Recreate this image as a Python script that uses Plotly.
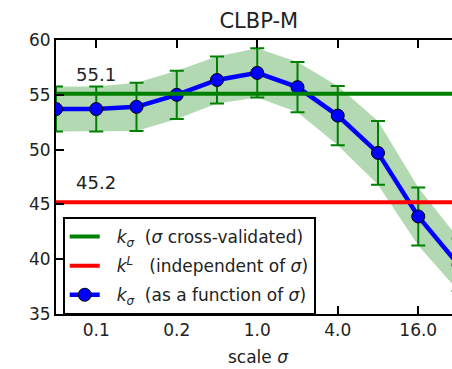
import plotly.graph_objects as go

# Scale values (plotted at evenly spaced positions, labelled every other one)
scale_pos = list(range(11))
tick_pos = [1, 3, 5, 7, 9]
tick_labels = ["0.1", "0.2", "1.0", "4.0", "16.0"]

# Accuracy of k_sigma as a function of sigma (mean and std)
k_sigma_mean = [53.7, 53.7, 53.9, 55.0, 56.35, 57.0, 55.7, 53.1, 49.7, 43.9, 39.5]
k_sigma_std = [2.05, 2.05, 2.2, 2.2, 2.15, 2.25, 2.3, 2.7, 2.9, 2.65, 2.4]

# Reference accuracies
k_sigma_cv = 55.1
k_L = 45.2

FONT = "DejaVu Sans"
PAD = "\u2002\u2009"
upper = [m + s for m, s in zip(k_sigma_mean, k_sigma_std)]
lower = [m - s for m, s in zip(k_sigma_mean, k_sigma_std)]

fig = go.Figure()

# shaded +/- std band
fig.add_trace(go.Scatter(x=scale_pos, y=upper, mode="lines",
                         line=dict(width=0, color="rgba(0,128,0,0)"),
                         showlegend=False, hoverinfo="skip"))
fig.add_trace(go.Scatter(x=scale_pos, y=lower, mode="lines",
                         line=dict(width=0, color="rgba(0,128,0,0)"),
                         fill="tonexty", fillcolor="rgba(0,128,0,0.3)",
                         showlegend=False, hoverinfo="skip"))

# k_sigma curve with error bars
fig.add_trace(go.Scatter(
    x=scale_pos, y=k_sigma_mean, mode="lines+markers",
    line=dict(color="#0000ff", width=4.5),
    marker=dict(size=13, color="#0000ff", line=dict(color="black", width=1)),
    error_y=dict(type="data", array=k_sigma_std, visible=True,
                 color="#008000", thickness=2, width=7),
    name=PAD + "<i>k</i><sub><i>σ</i></sub>  (as a function of <i>σ</i>)",
    legendrank=3, legendgroup="c",
))

# horizontal reference lines
x_span = [scale_pos[0] - 1, scale_pos[-1] + 1]
fig.add_trace(go.Scatter(
    x=x_span, y=[k_sigma_cv] * 2, mode="lines",
    line=dict(color="#008000", width=4),
    name=PAD + "<i>k</i><sub><i>σ</i></sub>  (<i>σ</i> cross-validated)",
    legendrank=1, legendgroup="a",
))
fig.add_trace(go.Scatter(
    x=x_span, y=[k_L] * 2, mode="lines",
    line=dict(color="#ff0000", width=4),
    name=PAD + "<i>k</i><sup><i>L</i></sup>   (independent of <i>σ</i>)",
    legendrank=2, legendgroup="b",
))

for v in (k_sigma_cv, k_L):
    fig.add_annotation(x=1, y=v, text=f"{v:.1f}", showarrow=False,
                       xanchor="center", yanchor="bottom", yshift=7,
                       font=dict(family=FONT, size=18, color="#222"))

fig.add_annotation(x=(258.5 - 56) / 396, y=-(357 - 314) / 274,
                   xref="paper", yref="paper",
                   text="scale <i>σ</i>", showarrow=False,
                   xanchor="center", yanchor="middle",
                   font=dict(family=FONT, size=17, color="#222"))

fig.update_layout(
    width=452, height=369,
    margin=dict(l=56, r=0, t=40, b=55),
    paper_bgcolor="white", plot_bgcolor="white",
    title=dict(text="CLBP-M", xref="container", x=258.8 / 452, xanchor="center",
               yref="container", y=1 - 21 / 369, yanchor="middle",
               font=dict(family=FONT, size=21, color="#222")),
    font=dict(family=FONT, color="#222"),
    legend=dict(x=0.017, y=0.354, xanchor="left", yanchor="top",
                bgcolor="white", bordercolor="black", borderwidth=2,
                font=dict(family=FONT, size=17, color="#222"),
                tracegroupgap=4),
    xaxis=dict(range=[0, 396 / 40.25], tickmode="array", tickvals=tick_pos,
               ticktext=tick_labels, ticks="inside", ticklen=8, tickwidth=1.5,
               tickcolor="black", showline=True, linecolor="black", linewidth=2,
               mirror="ticks", showgrid=False, zeroline=False,
               tickfont=dict(family=FONT, size=17, color="#222")),
    yaxis=dict(range=[35, 60], tickvals=[35, 40, 45, 50, 55, 60],
               ticks="inside", ticklen=8, tickwidth=1.5, tickcolor="black",
               showline=True, linecolor="black", linewidth=2,
               showgrid=False, zeroline=False,
               tickfont=dict(family=FONT, size=17, color="#222")),
)

fig.write_html("out.html")
